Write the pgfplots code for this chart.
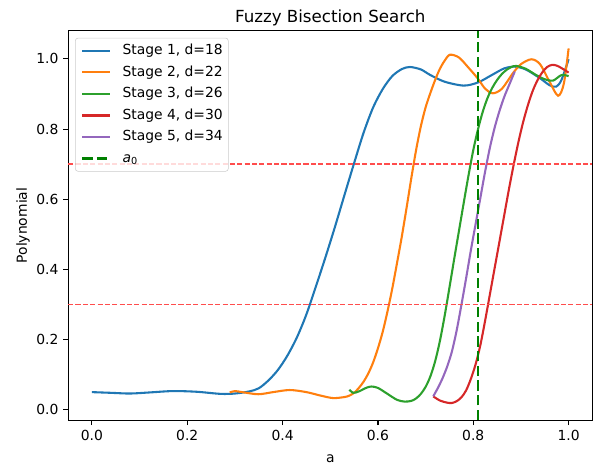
\documentclass[border=0pt]{standalone}
\usepackage{fontspec}
\setmainfont{DejaVu Sans}
\usepackage{pgfplots}
\pgfplotsset{compat=1.18}
\definecolor{c0}{HTML}{1F77B4}
\definecolor{c1}{HTML}{FF7F0E}
\definecolor{c2}{HTML}{2CA02C}
\definecolor{c3}{HTML}{D62728}
\definecolor{c4}{HTML}{9467BD}
\definecolor{gline}{HTML}{008000}
\definecolor{hred}{HTML}{FF4D4D}
\begin{document}
\begin{tikzpicture}
\begin{axis}[
  width=377.8pt, height=280.5pt, scale only axis,
  xmin=-0.05, xmax=1.05, ymin=-0.03, ymax=1.08,
  xtick={0,0.2,0.4,0.6,0.8,1.0},
  ytick={0,0.2,0.4,0.6,0.8,1.0},
  tick align=outside, tick pos=left,
  major tick length=3.5pt,
  every tick/.style={black, line width=0.8pt},
  axis line style={line width=0.8pt},
  /pgf/number format/assume math mode=true,
  /pgf/number format/.cd, fixed, fixed zerofill, precision=1, /pgfplots/.cd,
  tick label style={font=\fontsize{10}{12}\selectfont},
  label style={font=\fontsize{10}{12}\selectfont},
  xlabel={a}, ylabel={Polynomial},
  xlabel style={at={(axis description cs:0.5,-0.1077)}, anchor=base},
  ylabel style={at={(axis description cs:-0.0858,0.5)}, anchor=center, rotate=0},
  title={Fuzzy Bisection Search},
  title style={font=\fontsize{12}{14.4}\selectfont, at={(axis description cs:0.5,1)}, anchor=base},
  legend cell align=left,
  legend style={at={(0,1)}, anchor=north west, xshift=5pt, yshift=-5pt,
    draw=black!20, rounded corners=2pt, fill=white, fill opacity=0.8, text opacity=1,
    font=\fontsize{10}{12}\selectfont, inner sep=4pt,
    nodes={inner sep=0pt, text height=8pt, text depth=2.5pt},
    row sep=5pt, column sep=8pt},
  legend image code/.code={\draw[#1] (0pt,0pt) -- (20pt,0pt);},
  clip=true,
]
\addplot[c0, line width=1.5pt, smooth, tension=0.5] coordinates {
(0,0.050) (0.04,0.048) (0.08,0.046) (0.12,0.049) (0.17,0.053) (0.22,0.051)
(0.27,0.045) (0.30,0.046) (0.33,0.052) (0.35,0.061) (0.37,0.083) (0.39,0.113)
(0.41,0.154) (0.43,0.206) (0.45,0.272) (0.47,0.352) (0.49,0.435) (0.51,0.522)
(0.53,0.613) (0.55,0.703) (0.57,0.790) (0.59,0.862) (0.61,0.914) (0.63,0.951)
(0.65,0.971) (0.667,0.977) (0.69,0.970)
(0.71,0.954) (0.74,0.935) (0.78,0.924) (0.81,0.933) (0.84,0.955) (0.865,0.973)
(0.887,0.978) (0.91,0.970) (0.94,0.945) (0.96,0.925) (0.974,0.921) (0.985,0.94)
(1.0,0.999)};
\addlegendentry{Stage 1, d=18}
\addplot[c1, line width=1.5pt, smooth, tension=0.5] coordinates {
(0.289,0.049) (0.30,0.053) (0.315,0.050) (0.349,0.044) (0.38,0.050) (0.415,0.056)
(0.45,0.050) (0.48,0.040) (0.506,0.033) (0.53,0.036) (0.54,0.040) (0.55,0.048)
(0.56,0.062) (0.57,0.080) (0.58,0.104) (0.59,0.135) (0.60,0.175) (0.61,0.222)
(0.62,0.280) (0.63,0.345) (0.64,0.418) (0.65,0.493) (0.66,0.575) (0.67,0.660)
(0.68,0.740) (0.69,0.808) (0.70,0.862) (0.71,0.903) (0.72,0.940) (0.73,0.972)
(0.74,0.995) (0.751,1.012) (0.77,1.004) (0.79,0.975)
(0.809,0.945) (0.825,0.915) (0.841,0.902) (0.86,0.915) (0.883,0.959) (0.90,0.985)
(0.922,0.999) (0.94,0.985) (0.96,0.935) (0.978,0.895) (0.99,0.93) (1.0,1.03)};
\addlegendentry{Stage 2, d=22}
\addplot[c2, line width=1.5pt, smooth, tension=0.5] coordinates {
(0.540,0.057) (0.548,0.048) (0.56,0.052) (0.575,0.062) (0.586,0.066) (0.60,0.062)
(0.62,0.045) (0.64,0.028) (0.656,0.023) (0.67,0.025) (0.68,0.032) (0.69,0.045)
(0.70,0.065) (0.71,0.095) (0.72,0.138) (0.73,0.196) (0.74,0.268) (0.75,0.348)
(0.76,0.430) (0.77,0.510) (0.78,0.590) (0.79,0.668) (0.80,0.740) (0.81,0.800)
(0.82,0.850) (0.83,0.889) (0.84,0.918) (0.85,0.940) (0.86,0.957) (0.87,0.969)
(0.88,0.977) (0.890,0.980) (0.91,0.972) (0.932,0.954) (0.950,0.942) (0.967,0.938)
(0.985,0.954) (1.0,0.951)};
\addlegendentry{Stage 3, d=26}
\addplot[c3, line width=1.5pt, smooth, tension=0.5] coordinates {
(0.716,0.038) (0.73,0.026) (0.745,0.020) (0.755,0.019) (0.765,0.024) (0.775,0.035)
(0.785,0.055) (0.795,0.088) (0.805,0.130) (0.815,0.185) (0.825,0.255) (0.835,0.330)
(0.845,0.405) (0.855,0.480) (0.865,0.555) (0.875,0.630) (0.885,0.700) (0.895,0.765)
(0.905,0.822) (0.915,0.870) (0.925,0.910) (0.935,0.940) (0.945,0.962) (0.955,0.977)
(0.965,0.983) (0.975,0.981) (0.985,0.974) (1.0,0.961)};
\addlegendentry{Stage 4, d=30}
\addplot[c4, line width=1.5pt, smooth, tension=0.5] coordinates {
(0.716,0.038) (0.725,0.060) (0.735,0.088) (0.745,0.122) (0.755,0.165) (0.765,0.225)
(0.775,0.298) (0.785,0.375) (0.795,0.455) (0.805,0.530) (0.815,0.605) (0.825,0.680)
(0.835,0.748) (0.845,0.805) (0.855,0.852) (0.865,0.892) (0.875,0.925) (0.887,0.964)};
\addlegendentry{Stage 5, d=34}
\addplot[gline, line width=2pt, dash pattern=on 7.4pt off 3.2pt] coordinates {(0.81,-0.03) (0.81,1.08)};
\addlegendentry{\textit{a}\textsubscript{0}}
\addplot[hred, line width=1pt, dash pattern=on 3.7pt off 1.6pt, forget plot] coordinates {(-0.05,0.7) (1.05,0.7)};
\addplot[hred, line width=1pt, dash pattern=on 3.7pt off 1.6pt, forget plot] coordinates {(-0.05,0.3) (1.05,0.3)};
\end{axis}
\pgfresetboundingbox
\path[use as bounding box] ([shift={(-49.07pt,-31.3pt)}]current axis.south west) rectangle ([shift={(0.4pt,22.25pt)}]current axis.north east);
\end{tikzpicture}
\end{document}
